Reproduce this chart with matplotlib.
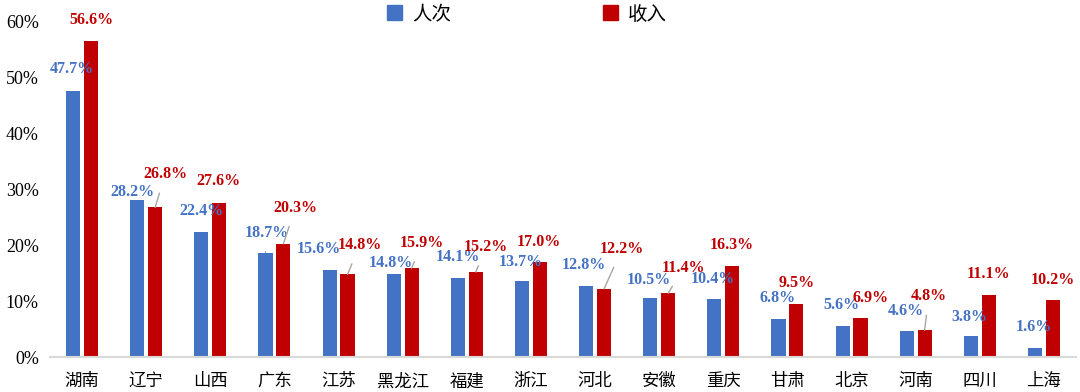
import numpy as np
import matplotlib.pyplot as plt
from matplotlib.patches import Patch

plt.rcParams['font.family'] = ['Liberation Serif', 'Noto Sans CJK SC']

provinces = ['湖南', '辽宁', '山西', '广东', '江苏', '黑龙江', '福建', '浙江',
             '河北', '安徽', '重庆', '甘肃', '北京', '河南', '四川', '上海']
visits = [47.7, 28.2, 22.4, 18.7, 15.6, 14.8, 14.1, 13.7,
          12.8, 10.5, 10.4, 6.8, 5.6, 4.6, 3.8, 1.6]
income = [56.6, 26.8, 27.6, 20.3, 14.8, 15.9, 15.2, 17.0,
          12.2, 11.4, 16.3, 9.5, 6.9, 4.8, 11.1, 10.2]

blue = '#4472C4'
red = '#C00000'

# label offsets in pixels from bar top (dx, dy), leader flag
blue_off = [(-1, 22), (-5, 8), (0, 21), (1, 20), (-11, 21), (-3, 11), (0, 21), (-1, 19),
            (-2, 21), (-1, 18), (-2, 20), (-1, 21), (-1, 21), (-1, 20), (-1, 19), (-1, 21)]
blue_lead = [0, 0, 0, 1, 0, 0, 0, 0, 0, 0, 0, 0, 0, 0, 0, 0]
red_off = [(0, 21), (10, 33), (-1, 22), (12, 36), (12, 29), (10, 25), (10, 25), (-1, 20),
           (18, 40), (15, 25), (-1, 21), (0, 21), (10, 20), (4, 34), (0, 21), (0, 20)]
red_lead = [0, 1, 0, 1, 1, 1, 1, 0, 1, 1, 0, 0, 0, 1, 0, 0]

fig = plt.figure(figsize=(10.8, 3.92), dpi=100)
ax = fig.add_axes([50/1080, 35/392, 1026/1080, 335/392])

x = np.arange(len(provinces))
w = 0.22
off = 0.14
b1 = ax.bar(x - off, visits, w, color=blue)
b2 = ax.bar(x + off, income, w, color=red)

def label(bars, vals, offs, leads, col):
    for r, v, (dx, dy), ld in zip(bars, vals, offs, leads):
        xc = r.get_x() + r.get_width() / 2
        ap = None
        if ld:
            ap = dict(arrowstyle='-', color='#A6A6A6', lw=1, shrinkA=6, shrinkB=0)
        ax.annotate(f'{v:.1f}%', (xc, v), xytext=(dx, dy), textcoords='offset pixels',
                    ha='center', va='center', color=col, fontsize=11.5, fontweight='bold',
                    arrowprops=ap, annotation_clip=False)

label(b1, visits, blue_off, blue_lead, blue)
label(b2, income, red_off, red_lead, red)

ax.set_xlim(-0.5, len(provinces) - 0.5)
ax.set_ylim(0, 60)
ax.set_yticks(np.arange(0, 61, 10))
ax.set_yticklabels([f'{t}%' for t in range(0, 61, 10)], fontsize=13)
ax.set_xticks(x)
ax.set_xticklabels(provinces, fontsize=12.5, family=['Noto Sans CJK SC'])
ax.tick_params(axis='both', length=0)
ax.tick_params(axis='y', pad=8)
ax.tick_params(axis='x', pad=11)
for s in ['top', 'right', 'left']:
    ax.spines[s].set_visible(False)
ax.spines['bottom'].set_color('#D9D9D9')
ax.spines['bottom'].set_linewidth(1.5)

handles = [Patch(color=blue, label='人次'), Patch(color=red, label='收入')]
fig.legend(handles=handles, loc='center', bbox_to_anchor=(527/1080, 1 - 14/392), ncol=2,
           frameon=False, prop={'family': ['Noto Sans CJK SC'], 'size': 14},
           handlelength=0.8, handleheight=0.8, handletextpad=0.5, columnspacing=7.8)

fig.savefig('out.png', dpi=100)
